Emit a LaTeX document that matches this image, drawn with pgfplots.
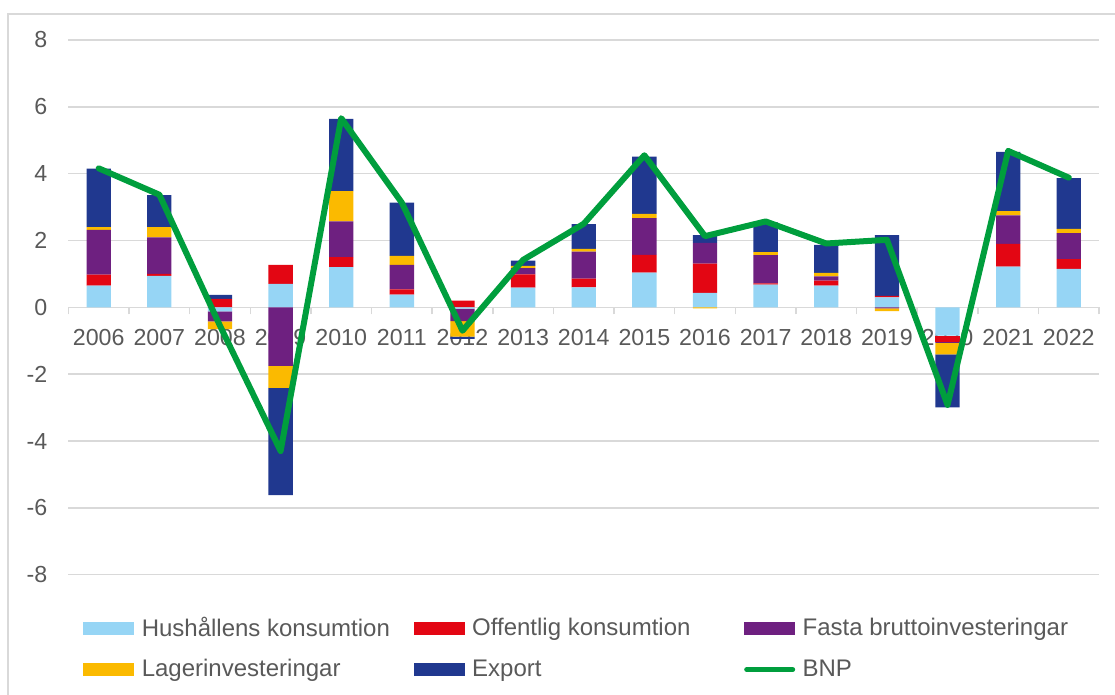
\documentclass[border=0pt]{standalone}
\usepackage{pgfplots}
\pgfplotsset{compat=1.18}
\usepackage{pgfplotstable}
\usepackage{fontspec}
\setmainfont{Liberation Sans}
\definecolor{hush}{RGB}{150,213,245}
\definecolor{off}{RGB}{227,6,19}
\definecolor{fasta}{RGB}{110,32,128}
\definecolor{lager}{RGB}{251,186,0}
\definecolor{export}{RGB}{32,56,143}
\definecolor{bnp}{RGB}{0,158,61}
\definecolor{txt}{RGB}{89,89,89}
\definecolor{grd}{RGB}{217,217,217}

\pgfplotstableread{
x  hush   off    fasta  lager  export  bnp
0  0.65   0.33   1.34   0.08   1.75    4.16
1  0.94   0.06   1.09   0.31   0.96    3.37
2  -0.12  0.25   -0.30  -0.23  0.12    -0.55
3  0.70   0.57   -1.75  -0.66  -3.21   -4.30
4  1.20   0.30   1.07   0.91   2.16    5.66
5  0.38   0.16   0.73   0.27   1.59    3.13
6  -0.04  0.20   -0.37  -0.47  -0.06   -0.70
7  0.59   0.40   0.18   0.07   0.16    1.42
8  0.60   0.26   0.81   0.08   0.74    2.50
9  1.04   0.53   1.10   0.13   1.71    4.55
10 0.43   0.88   0.62   -0.03  0.23    2.13
11 0.68   0.04   0.84   0.09   0.89    2.57
12 0.65   0.15   0.13   0.10   0.84    1.91
13 0.30   0.04   -0.03  -0.08  1.82    2.02
14 -0.85  -0.18  -0.03  -0.35  -1.58   -2.92
15 1.22   0.68   0.85   0.13   1.77    4.68
16 1.15   0.29   0.78   0.13   1.52    3.88
}\data

\pgfplotsset{
  mybase/.style={
    scale only axis, width=515.35bp, height=267.35bp,
    xmin=-0.5, xmax=16.5, ymin=-8, ymax=8,
    clip=false,
  },
  barstyle/.style={draw=none, fill=#1},
  boxleg/.style={legend image code/.code={\fill[##1] (0bp,-3.2bp) rectangle (25.5bp,3.2bp);}},
  lineleg/.style={legend image code/.code={\draw[##1] (1.3bp,0bp) -- (24.2bp,0bp);}},
}
\newcommand{\legtext}[1]{\hspace{3.7bp}\makebox[136bp][l]{\rule[-2.5bp]{0pt}{11bp}#1}}

\begin{document}
\begin{tikzpicture}
% chart area border (partly visible in the reference)
\draw[grd, line width=0.6bp] (-30.2bp,-60.15bp) -- (-30.2bp,280.35bp) -- (523.3bp,280.35bp);
% positive parts, grid, labels, legend
\begin{axis}[mybase,
  ybar stacked, bar width=12.15bp,
  axis x line*=middle, axis y line*=left,
  x axis line style={draw=grd, line width=0.75bp},
  y axis line style={draw=none},
  hide obscured x ticks=false, hide obscured y ticks=false,
  ymajorgrids, grid style={draw=grd, line width=0.75bp},
  ytick={-8,-6,...,8},
  ytick style={draw=none},
  xtick={0,...,16},
  xticklabels={2006,2007,2008,2009,2010,2011,2012,2013,2014,2015,2016,2017,2018,2019,2020,2021,2022},
  major tick length=0pt,
  extra x ticks={-0.5,0.5,...,16.5},
  extra x tick labels={},
  extra x tick style={major tick length=3.5bp, tick align=outside, tick style={draw=grd, line width=0.75bp}},
  tick label style={font=\fontsize{11.6bp}{13bp}\selectfont, text=txt},
  /pgf/number format/assume math mode=true,
  yticklabel style={anchor=east, xshift=-7bp},
  xticklabel style={yshift=-7.3bp},
  legend style={at={(rel axis cs:0,0)}, anchor=north west, xshift=7.3bp, yshift=-21bp,
    draw=none, fill=none, legend columns=3, column sep=0pt, row sep=10bp,
    font=\fontsize{12bp}{13.5bp}\selectfont, text=txt, inner sep=0pt,
    nodes={inner sep=0pt}},
  boxleg,
]
\addplot[barstyle=hush] table[x=x, y expr={max(\thisrow{hush},0)}] {\data};
\addlegendentry{\legtext{Hushållens konsumtion}}
\addplot[barstyle=off] table[x=x, y expr={max(\thisrow{off},0)}] {\data};
\addlegendentry{\legtext{Offentlig konsumtion}}
\addplot[barstyle=fasta] table[x=x, y expr={max(\thisrow{fasta},0)}] {\data};
\addlegendentry{\legtext{Fasta bruttoinvesteringar}}
\addplot[barstyle=lager] table[x=x, y expr={max(\thisrow{lager},0)}] {\data};
\addlegendentry{\legtext{Lagerinvesteringar}}
\addplot[barstyle=export] table[x=x, y expr={max(\thisrow{export},0)}] {\data};
\addlegendentry{\legtext{Export}}
\addlegendimage{lineleg, draw=bnp, line width=2.6bp, line cap=round}
\addlegendentry{\legtext{BNP}}
\end{axis}
% negative parts
\begin{axis}[mybase, hide axis, ybar stacked, bar width=12.15bp]
\addplot[barstyle=hush] table[x=x, y expr={min(\thisrow{hush},0)}] {\data};
\addplot[barstyle=off] table[x=x, y expr={min(\thisrow{off},0)}] {\data};
\addplot[barstyle=fasta] table[x=x, y expr={min(\thisrow{fasta},0)}] {\data};
\addplot[barstyle=lager] table[x=x, y expr={min(\thisrow{lager},0)}] {\data};
\addplot[barstyle=export] table[x=x, y expr={min(\thisrow{export},0)}] {\data};
\end{axis}
% BNP line
\begin{axis}[mybase, hide axis]
\addplot[draw=bnp, line width=3bp, mark=none, line join=round, line cap=round] table[x=x, y=bnp] {\data};
\end{axis}
\pgfresetboundingbox
\path (-34.2bp,-60.15bp) rectangle (523.3bp,287.35bp);
\end{tikzpicture}
\end{document}
